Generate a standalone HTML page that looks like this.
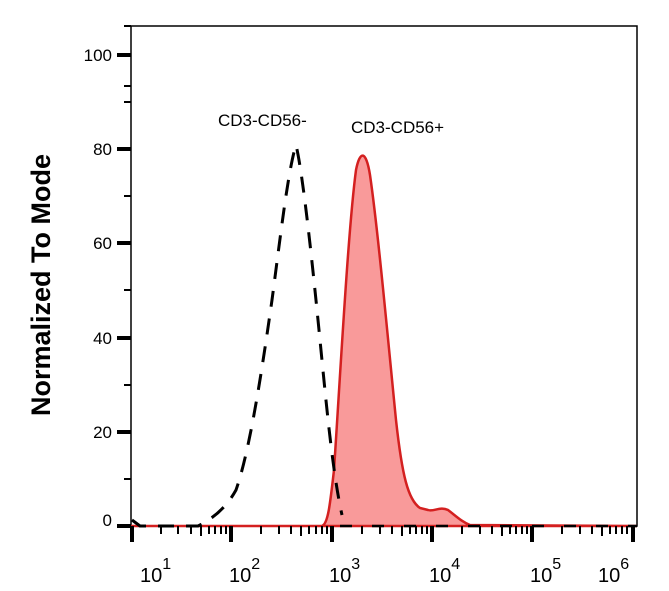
<!DOCTYPE html>
<html><head><style>body{margin:0;background:#fff}svg{display:block}</style></head><body>
<svg width="669" height="591" viewBox="0 0 669 591" xmlns="http://www.w3.org/2000/svg" font-family="Liberation Sans, sans-serif">
<rect width="669" height="591" fill="#fff"/>
<rect x="131" y="26" width="506" height="500" fill="none" stroke="#000" stroke-width="1.5"/>
<path d="M131,526 L322,526 C328,524 330,505 334,470 C340,380 348,230 356,170 C360,150 366,150 370,175 C378,230 388,340 396,420 C402,475 408,500 420,508 L428,510 C434,512 440,506 448,510 C456,516 462,522 470,525 L637,526 Z" fill="#f99a9a" stroke="#d42020" stroke-width="2.5"/>
<path d="M132,520 L140,526 L198,526 C210,520 225,510 236,490 C250,450 262,370 272,300 C280,240 288,170 296,145 C302,170 310,240 318,320 C326,400 332,470 342,515" fill="none" stroke="#000" stroke-width="3" stroke-dasharray="16,12"/>
<path d="M340,526 L637,526" fill="none" stroke="#000" stroke-width="2.5" stroke-dasharray="12,20"/>
<g stroke="#000" stroke-width="2">
<line x1="117" y1="55" x2="131" y2="55" stroke-width="4"/><line x1="117" y1="149" x2="131" y2="149" stroke-width="4"/><line x1="117" y1="243" x2="131" y2="243" stroke-width="4"/><line x1="117" y1="338" x2="131" y2="338" stroke-width="4"/><line x1="117" y1="432" x2="131" y2="432" stroke-width="4"/><line x1="117" y1="526" x2="131" y2="526" stroke-width="4"/>
<line x1="124" y1="26" x2="131" y2="26"/><line x1="124" y1="86" x2="131" y2="86"/><line x1="124" y1="102" x2="131" y2="102"/><line x1="124" y1="196" x2="131" y2="196"/><line x1="124" y1="290" x2="131" y2="290"/><line x1="124" y1="385" x2="131" y2="385"/><line x1="124" y1="479" x2="131" y2="479"/>
</g>
<g font-size="17" text-anchor="end">
<text x="112" y="61">100</text><text x="112" y="155">80</text><text x="112" y="249">60</text><text x="112" y="344">40</text><text x="112" y="438">20</text><text x="112" y="526">0</text>
</g>
<g stroke="#000" stroke-width="4">
<line x1="132" y1="526" x2="132" y2="542"/><line x1="231" y1="526" x2="231" y2="542"/><line x1="332" y1="526" x2="332" y2="542"/><line x1="432" y1="526" x2="432" y2="542"/><line x1="532" y1="526" x2="532" y2="542"/><line x1="633" y1="526" x2="633" y2="542"/>
</g>
<g stroke="#000" stroke-width="2">
<line x1="161" y1="526" x2="161" y2="534"/><line x1="178" y1="526" x2="178" y2="534"/><line x1="191" y1="526" x2="191" y2="534"/><line x1="201" y1="526" x2="201" y2="536"/><line x1="209" y1="526" x2="209" y2="534"/><line x1="215" y1="526" x2="215" y2="534"/><line x1="221" y1="526" x2="221" y2="534"/><line x1="226" y1="526" x2="226" y2="534"/>
<line x1="261" y1="526" x2="261" y2="534"/><line x1="279" y1="526" x2="279" y2="534"/><line x1="291" y1="526" x2="291" y2="534"/><line x1="301" y1="526" x2="301" y2="536"/><line x1="309" y1="526" x2="309" y2="534"/><line x1="316" y1="526" x2="316" y2="534"/><line x1="322" y1="526" x2="322" y2="534"/><line x1="327" y1="526" x2="327" y2="534"/>
<line x1="362" y1="526" x2="362" y2="534"/><line x1="380" y1="526" x2="380" y2="534"/><line x1="392" y1="526" x2="392" y2="534"/><line x1="402" y1="526" x2="402" y2="536"/><line x1="410" y1="526" x2="410" y2="534"/><line x1="416" y1="526" x2="416" y2="534"/><line x1="422" y1="526" x2="422" y2="534"/><line x1="427" y1="526" x2="427" y2="534"/>
<line x1="462" y1="526" x2="462" y2="534"/><line x1="480" y1="526" x2="480" y2="534"/><line x1="492" y1="526" x2="492" y2="534"/><line x1="502" y1="526" x2="502" y2="536"/><line x1="510" y1="526" x2="510" y2="534"/><line x1="516" y1="526" x2="516" y2="534"/><line x1="522" y1="526" x2="522" y2="534"/><line x1="527" y1="526" x2="527" y2="534"/>
<line x1="562" y1="526" x2="562" y2="534"/><line x1="580" y1="526" x2="580" y2="534"/><line x1="592" y1="526" x2="592" y2="534"/><line x1="602" y1="526" x2="602" y2="536"/><line x1="610" y1="526" x2="610" y2="534"/><line x1="616" y1="526" x2="616" y2="534"/><line x1="622" y1="526" x2="622" y2="534"/><line x1="627" y1="526" x2="627" y2="534"/>
</g>
<g font-size="20">
<text x="140" y="582">10<tspan font-size="16" dy="-13">1</tspan></text>
<text x="229" y="582">10<tspan font-size="16" dy="-13">2</tspan></text>
<text x="329" y="582">10<tspan font-size="16" dy="-13">3</tspan></text>
<text x="429" y="582">10<tspan font-size="16" dy="-13">4</tspan></text>
<text x="530" y="582">10<tspan font-size="16" dy="-13">5</tspan></text>
<text x="598" y="582">10<tspan font-size="16" dy="-13">6</tspan></text>
</g>
<text x="218" y="126" font-size="17">CD3-CD56-</text>
<text x="351" y="133" font-size="17">CD3-CD56+</text>
<text transform="translate(50,285) rotate(-90)" font-size="27" font-weight="bold" text-anchor="middle">Normalized To Mode</text>
</svg>
</body></html>
